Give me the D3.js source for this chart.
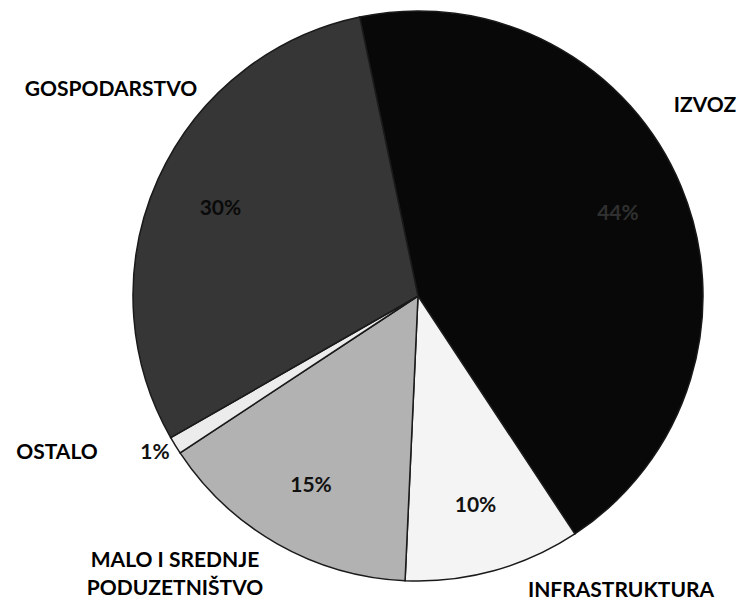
<!DOCTYPE html>
<html>
<head>
<meta charset="utf-8">
<script src="https://cdn.jsdelivr.net/npm/d3@7"></script>
<style>
  body { margin: 0; background: #fff; }
  text { font-family: Lato, "Open Sans", sans-serif; font-weight: bold; }
</style>
</head>
<body>
<div class="chart"></div>
<script>
// data
const categories = ["IZVOZ", "INFRASTRUKTURA", "MALO I SREDNJE PODUZETNIŠTVO", "OSTALO", "GOSPODARSTVO"];
const values = [44, 10, 15, 1, 30];
const percentLabels = ["44%", "10%", "15%", "1%", "30%"];

// chart size
let width = 740;
let height = 600;
let cx = 418, cy = 296, radius = 285;

// fill for every slice
const colors = ["#080808", "#f4f4f4", "#b2b2b2", "#ececec", "#363636"];
const pctColors = ["#303030", "#111", "#111", "#111", "#0a0a0a"];

// where the category names sit
const namePos = [
    { x: 705, y: 105, lines: ["IZVOZ"] },
    { x: 621, y: 590, lines: ["INFRASTRUKTURA"] },
    { x: 175, y: 560, lines: ["MALO I SREDNJE", "PODUZETNIŠTVO"] },
    { x: 57, y: 452, lines: ["OSTALO"] },
    { x: 111, y: 89, lines: ["GOSPODARSTVO"] }
];

let svg = d3.select(".chart").append("svg")
    .attr("width", width)
    .attr("height", height);

const startAngle = -11.8 * Math.PI / 180;

const pie = d3.pie()
    .sort(null)
    .startAngle(startAngle)
    .endAngle(startAngle + 2 * Math.PI);

const arcs = pie(values);

const arc = d3.arc().innerRadius(0).outerRadius(radius);
const labelArc = d3.arc().innerRadius(radius * 0.76).outerRadius(radius * 0.76);

const g = svg.append("g")
    .attr("transform", `translate(${cx}, ${cy})`);

// slices
g.selectAll(".slice")
    .data(arcs)
    .enter()
    .append("path")
    .attr("class", "slice")
    .attr("d", arc)
    .attr("fill", (d, i) => colors[i])
    .attr("stroke", "#1a1a1a")
    .attr("stroke-width", 1.5);

// percent labels inside slices (the 1% one sits outside, left of its slice)
g.selectAll(".pct")
    .data(arcs)
    .enter()
    .append("text")
    .attr("class", "pct")
    .attr("transform", (d, i) => {
        if (i == 3) return `translate(${155 - cx}, ${452 - cy})`;
        const c = labelArc.centroid(d);
        return `translate(${c[0]}, ${c[1]})`;
    })
    .attr("text-anchor", "middle")
    .attr("dy", "0.35em")
    .attr("font-size", 21)
    .attr("fill", (d, i) => pctColors[i])
    .text((d, i) => percentLabels[i]);

// category names
namePos.forEach((p, i) => {
    const t = svg.append("text")
        .attr("x", p.x)
        .attr("y", p.y)
        .attr("text-anchor", "middle")
        .attr("font-size", 21)
        .attr("fill", "#000");
    p.lines.forEach((line, j) => {
        t.append("tspan")
            .attr("x", p.x)
            .attr("dy", j == 0 ? "0.35em" : 28)
            .text(line);
    });
});
</script>
</body>
</html>
